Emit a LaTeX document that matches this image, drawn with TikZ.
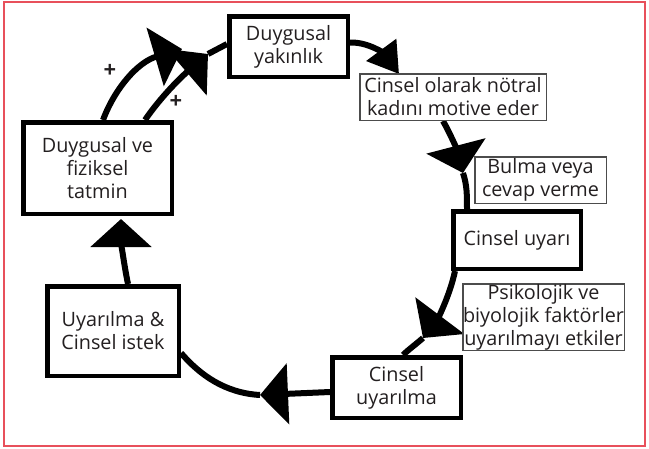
\documentclass[tikz,border=0pt]{standalone}
\usepackage{fontspec}
\setmainfont{Open Sans}
\usetikzlibrary{arrows.meta,backgrounds,calc}
\definecolor{txt}{HTML}{231F20}
\definecolor{framered}{HTML}{E8505B}
\tikzset{
  boxtext/.style={inner sep=0pt, align=center, text=txt, fill=white,
    font=\fontsize{19.8}{23}\selectfont},
  thickbox/.style={boxtext, draw=black, line width=4.5pt},
  thinbox/.style={boxtext, draw=black!70, line width=1.5pt},
  loopline/.style={line width=6pt, draw=black},
  bighead/.style={-{Triangle[width=60pt,length=28pt]}},
  smallhead/.style={-{Triangle[width=36pt,length=30pt]}},
  plussign/.style={inner sep=0pt, text=txt, font=\fontsize{22}{22}\selectfont\bfseries},
}
\begin{document}
\begin{tikzpicture}[x=1pt,y=-1pt]
\useasboundingbox (0,0) rectangle (649,448);
% boxes
\node[thickbox, minimum width=118.5pt, minimum height=60.5pt] (b1) at (288.5,46.5) {Duygusal\\yakınlık};
\node[thinbox, minimum width=186.5pt, minimum height=46.5pt] (b2) at (453,97) {Cinsel olarak nötral\\kadını motive eder};
\node[thinbox, minimum width=131.5pt, minimum height=46.5pt] (b3) at (540.5,180) {Bulma veya\\cevap verme};
\node[thickbox, minimum width=127.5pt, minimum height=57.5pt] (b4) at (517,240) {Cinsel uyarı};
\node[thinbox, minimum width=161.5pt, minimum height=66.5pt] (b5) at (543.5,317) {Psikolojik ve\\biyolojik faktörler\\uyarılmayı etkiler};
\node[thickbox, minimum width=128.5pt, minimum height=60.5pt] (b6) at (396.5,387.5) {Cinsel\\uyarılma};
\node[thickbox, minimum width=131.5pt, minimum height=89.5pt] (b7) at (113,331) {Uyarılma \&\\Cinsel istek};
\node[thickbox, minimum width=148.5pt, minimum height=91.5pt] (b8) at (97.5,168) {Duygusal ve\\fiziksel\\tatmin};
\node[plussign] (p1) at (110,71) {+};
\node[plussign] (p2) at (176,102) {+};
% arrow tip points
\coordinate (t1) at (399,74);
\coordinate (t2) at (463,173);
\coordinate (t3) at (423,338);
\coordinate (t4) at (260,395);
\coordinate (t5) at (121,219);
\coordinate (t6a) at (182,49);
\coordinate (t6b) at (208,54);
\begin{scope}[on background layer]
\draw[framered, line width=1.5pt] (4,2) rectangle (645,446);
\draw[loopline, smallhead] ([yshift=4pt]b1.east) .. controls (370,42) and (385,55) .. (t1);
\draw[loopline, bighead] ([xshift=-10pt]b2.south) .. controls (450,133) and (457,150) .. (t2);
\draw[loopline] (t2) .. controls (467,185) and (467,195) .. ([xshift=-50pt]b4.north);
\draw[loopline, bighead] ([xshift=-62pt]b4.south) .. controls (450,295) and (438,318) .. (t3);
\draw[loopline] (t3) .. controls (415,345) and (408,350) .. ([xshift=6.5pt]b6.north);
\draw[loopline, bighead] ([yshift=-4.5pt]b6.west) -- (t4);
\draw[loopline] (t4) .. controls (225,393) and (200,375) .. ([yshift=-22pt]b7.east);
\draw[loopline, bighead] ([xshift=15pt]b7.north) .. controls (124,265) and (121,240) .. (t5);
\draw[loopline, bighead] ([xshift=5.5pt]b8.north) .. controls (115,88) and (138,62) .. (t6a);
\draw[loopline, bighead] ([xshift=47.5pt]b8.north) .. controls (160,98) and (180,78) .. (t6b);
\draw[loopline] (t6b) -- ([yshift=2.5pt]b1.west);
\end{scope}
\end{tikzpicture}
\end{document}
